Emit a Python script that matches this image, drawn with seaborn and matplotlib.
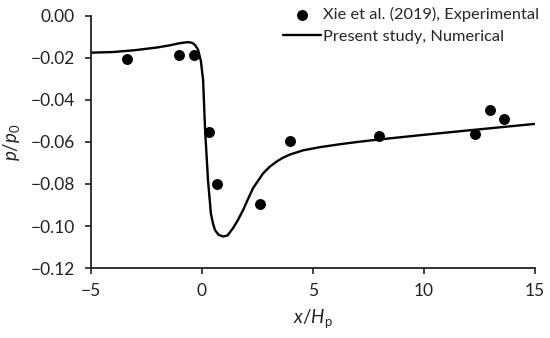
import numpy as np
import pandas as pd
import seaborn as sns
import matplotlib.pyplot as plt

# Experimental data (Xie et al. 2019)
exp_x = [-3.38, -1.04, -0.36, 0.32, 0.66, 2.62, 3.96, 7.97, 12.3, 12.97, 13.6]
exp_y = [-0.0205, -0.0186, -0.0186, -0.0552, -0.080, -0.0895, -0.0595, -0.057, -0.056, -0.0448, -0.049]

# Numerical curve (present study)
num_x = [-5, -4, -3, -2, -1.5, -1, -0.8, -0.63, -0.45, -0.32, -0.18, -0.05, 0.05, 0.14,
         0.27, 0.4, 0.5, 0.59, 0.75, 0.95, 1.15, 1.4, 1.6, 1.85, 2.05, 2.3, 2.75, 3.05,
         3.38, 3.65, 3.96, 4.55, 5.3, 6.2, 7.0, 8.0, 10.0, 12.0, 15.0]
num_y = [-0.0175, -0.0172, -0.0163, -0.0150, -0.0141, -0.0130, -0.0127, -0.0125, -0.0128,
         -0.0138, -0.0160, -0.0215, -0.0305, -0.0543, -0.0780, -0.0940, -0.0990, -0.1020,
         -0.1042, -0.1050, -0.1045, -0.1010, -0.0975, -0.0925, -0.0877, -0.0820, -0.0750,
         -0.0718, -0.0692, -0.0675, -0.0660, -0.0640, -0.0625, -0.0611, -0.0600, -0.0588,
         -0.0566, -0.0545, -0.0514]

sns.set_theme(style="ticks")
plt.rcParams['font.family'] = ['Lato', 'DejaVu Sans']
plt.rcParams['mathtext.fontset'] = 'custom'
plt.rcParams['mathtext.rm'] = 'Lato'
plt.rcParams['mathtext.it'] = 'Lato:italic'
plt.rcParams['axes.unicode_minus'] = True

fig = plt.figure(figsize=(5.5, 3.38), dpi=100)
ax = fig.add_axes([0.1655, 0.207, 0.807, 0.746])

exp_df = pd.DataFrame({'x': exp_x, 'y': exp_y})
num_df = pd.DataFrame({'x': num_x, 'y': num_y})

sns.scatterplot(data=exp_df, x='x', y='y', ax=ax, color='black', s=62,
                edgecolor='black', linewidth=0, label='Xie et al. (2019), Experimental', zorder=3)
sns.lineplot(data=num_df, x='x', y='y', ax=ax, color='black', linewidth=1.7,
             label='Present study, Numerical', sort=False)

ax.set_xlim(-5, 15)
ax.set_ylim(-0.12, 0.0)
ax.set_xticks([-5, 0, 5, 10, 15])
ax.set_yticks(np.arange(-0.12, 0.001, 0.02))
ax.yaxis.set_major_formatter(plt.FuncFormatter(lambda v, p: f"{v:.2f}".replace('-', '\u2212')))
ax.xaxis.set_major_formatter(plt.FuncFormatter(lambda v, p: f"{v:.0f}".replace('-', '\u2212')))
ax.tick_params(labelsize=12.5, length=4.5, width=1.2, color='#222222', labelcolor='#222222')
ax.tick_params(axis='x', pad=6)
ax.tick_params(axis='y', pad=7)
for s in ['left', 'bottom']:
    ax.spines[s].set_linewidth(1.3)
    ax.spines[s].set_color('#222222')
sns.despine(ax=ax)

ax.set_xlabel(r'$x/H_\mathrm{p}$', fontsize=13.5, labelpad=6, color='#222222')
ax.set_ylabel(r'$p/p_\mathrm{0}$', fontsize=13.5, labelpad=6, color='#222222')

ax.legend(loc='upper right', bbox_to_anchor=(1.025, 1.06), frameon=False, fontsize=11.8,
          handlelength=2.3, handletextpad=0.15, labelspacing=0.45, borderaxespad=0)

fig.savefig('out.png', dpi=100)
